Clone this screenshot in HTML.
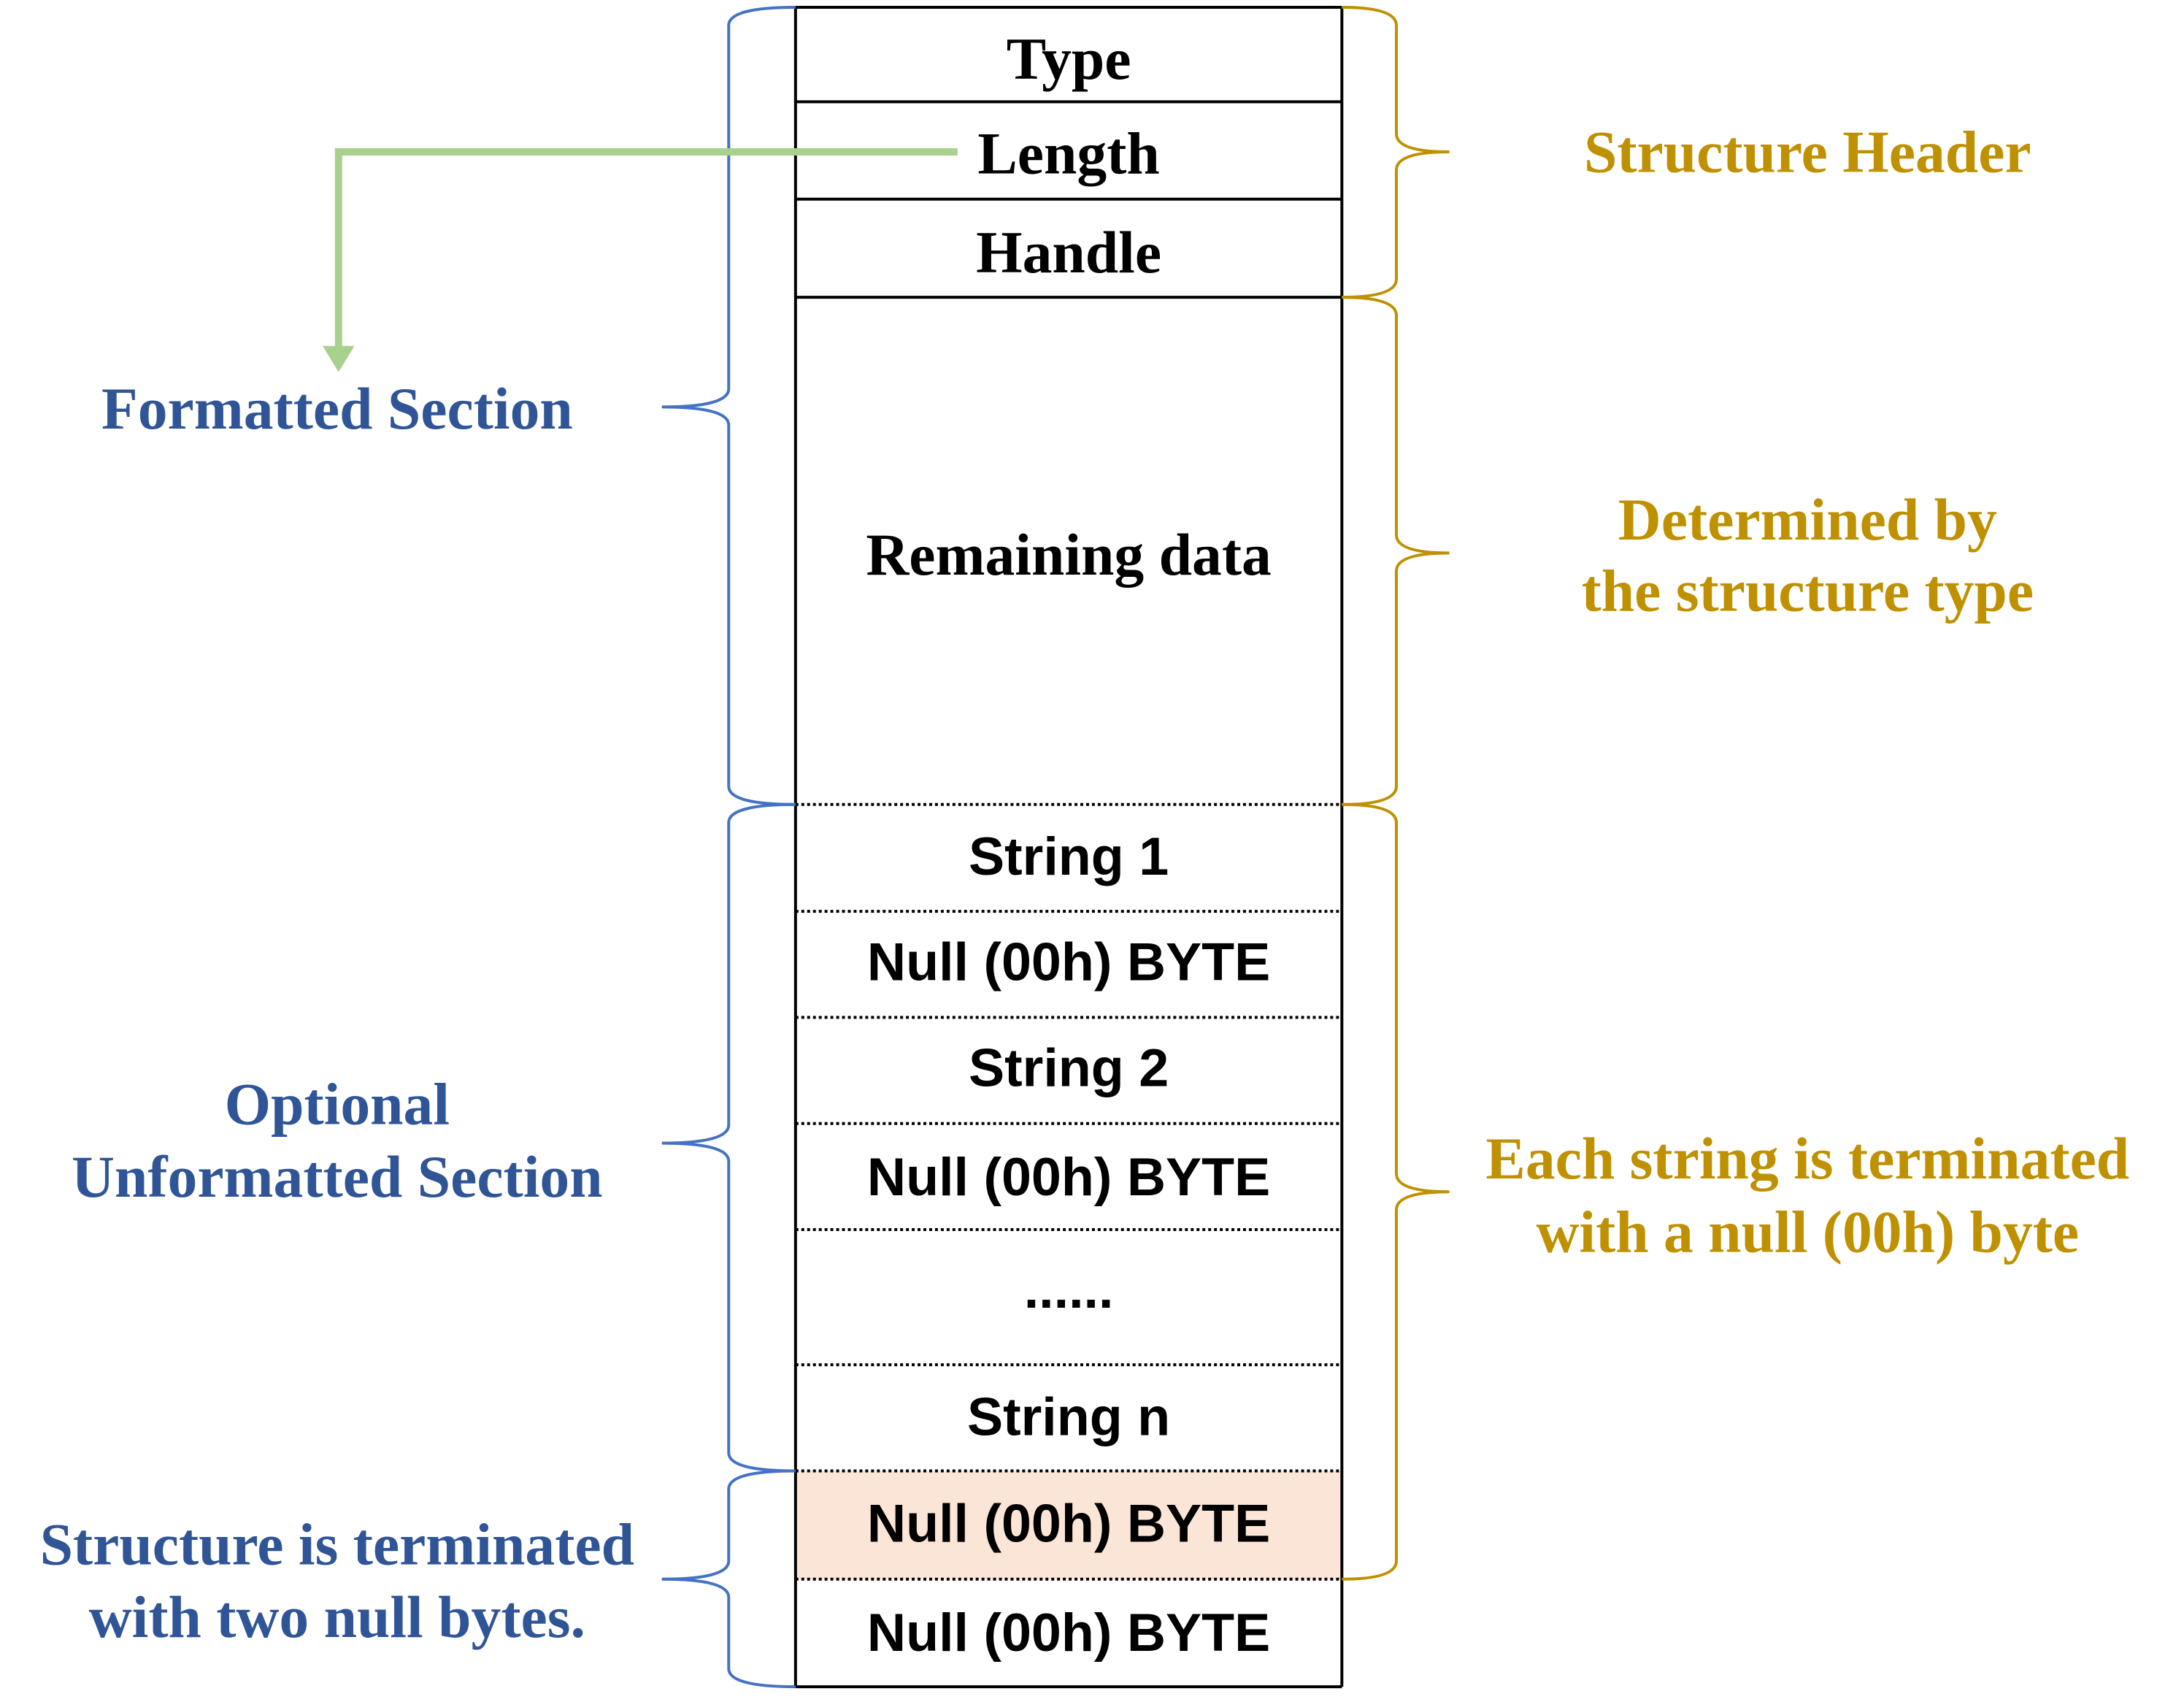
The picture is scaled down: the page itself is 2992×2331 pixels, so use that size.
<!DOCTYPE html>
<html><head><meta charset="utf-8"><style>
html,body{margin:0;padding:0;background:#fff;}
svg{display:block}
.s{font-family:"Liberation Serif",serif;font-weight:bold;font-size:82px;}
.n{font-family:"Liberation Sans",sans-serif;font-weight:bold;font-size:74px;}
</style></head><body>
<svg width="2992" height="2331" viewBox="0 0 2992 2331" xmlns="http://www.w3.org/2000/svg">
<g transform="scale(0.9953)">
<rect x="1095" y="2024" width="752" height="149" fill="#FBE5D6"/>
<g stroke="#000" stroke-width="4" fill="none">
<line x1="1095" y1="10" x2="1847" y2="10"/>
<line x1="1095" y1="140" x2="1847" y2="140"/>
<line x1="1095" y1="274" x2="1847" y2="274"/>
<line x1="1095" y1="409" x2="1847" y2="409"/>
<line x1="1095" y1="2321" x2="1847" y2="2321"/>
<line x1="1095" y1="10" x2="1095" y2="2321"/>
<line x1="1847" y1="10" x2="1847" y2="2321"/>
</g>
<g stroke="#000" stroke-width="4" stroke-dasharray="4 4" fill="none">
<line x1="1095" y1="1107" x2="1847" y2="1107"/>
<line x1="1095" y1="1254" x2="1847" y2="1254"/>
<line x1="1095" y1="1400" x2="1847" y2="1400"/>
<line x1="1095" y1="1546" x2="1847" y2="1546"/>
<line x1="1095" y1="1692" x2="1847" y2="1692"/>
<line x1="1095" y1="1878" x2="1847" y2="1878"/>
<line x1="1095" y1="2024" x2="1847" y2="2024"/>
<line x1="1095" y1="2173" x2="1847" y2="2173"/>
</g>
<g stroke="#4472C4" stroke-width="4" fill="none">
<path d="M1095,10 Q1003,10 1003,35 L1003,535 Q1003,560 911,560 Q1003,560 1003,585 L1003,1082 Q1003,1107 1095,1107"/>
<path d="M1095,1107 Q1003,1107 1003,1132 L1003,1548 Q1003,1573 911,1573 Q1003,1573 1003,1598 L1003,1999 Q1003,2024 1095,2024"/>
<path d="M1095,2024 Q1003,2024 1003,2049 L1003,2148 Q1003,2173 911,2173 Q1003,2173 1003,2198 L1003,2296 Q1003,2321 1095,2321"/>
</g>
<g stroke="#BF9000" stroke-width="4" fill="none">
<path d="M1847,10 Q1922,10 1922,35 L1922,184 Q1922,209 1995,209 Q1922,209 1922,234 L1922,384 Q1922,409 1847,409"/>
<path d="M1847,409 Q1922,409 1922,434 L1922,736 Q1922,761 1995,761 Q1922,761 1922,786 L1922,1082 Q1922,1107 1847,1107"/>
<path d="M1847,1107 Q1922,1107 1922,1132 L1922,1615 Q1922,1640 1995,1640 Q1922,1640 1922,1665 L1922,2148 Q1922,2173 1847,2173"/>
</g>
<polyline points="1318,209 466,209 466,480" stroke="#A9D18E" stroke-width="10" fill="none"/>
<polygon points="444,476 488,476 466,512" fill="#A9D18E"/>
<g text-anchor="middle" dominant-baseline="central">
<text class="s" x="1471" y="81">Type</text>
<text class="s" x="1471" y="211">Length</text>
<text class="s" x="1471" y="347">Handle</text>
<text class="s" x="1471" y="763">Remaining data</text>
<text class="n" x="1471" y="1178">String 1</text>
<text class="n" x="1471" y="1323">Null (00h) BYTE</text>
<text class="n" x="1471" y="1469">String 2</text>
<text class="n" x="1471" y="1619">Null (00h) BYTE</text>
<text class="n" x="1471" y="1774">......</text>
<text class="n" x="1471" y="1949">String n</text>
<text class="n" x="1471" y="2096">Null (00h) BYTE</text>
<text class="n" x="1471" y="2246">Null (00h) BYTE</text>
<g fill="#2F5597">
<text class="s" x="464" y="562">Formatted Section</text>
<text class="s" x="464" y="1519">Optional</text>
<text class="s" x="464" y="1619">Unformatted Section</text>
<text class="s" x="464" y="2125">Structure is terminated</text>
<text class="s" x="464" y="2225">with two null bytes.</text>
</g>
<g fill="#BF9000">
<text class="s" x="2488" y="209">Structure Header</text>
<text class="s" x="2488" y="715">Determined by</text>
<text class="s" x="2488" y="813">the structure type</text>
<text class="s" x="2488" y="1594">Each string is terminated</text>
<text class="s" x="2488" y="1695">with a null (00h) byte</text>
</g>
</g>
</g>
</svg>
</body></html>
